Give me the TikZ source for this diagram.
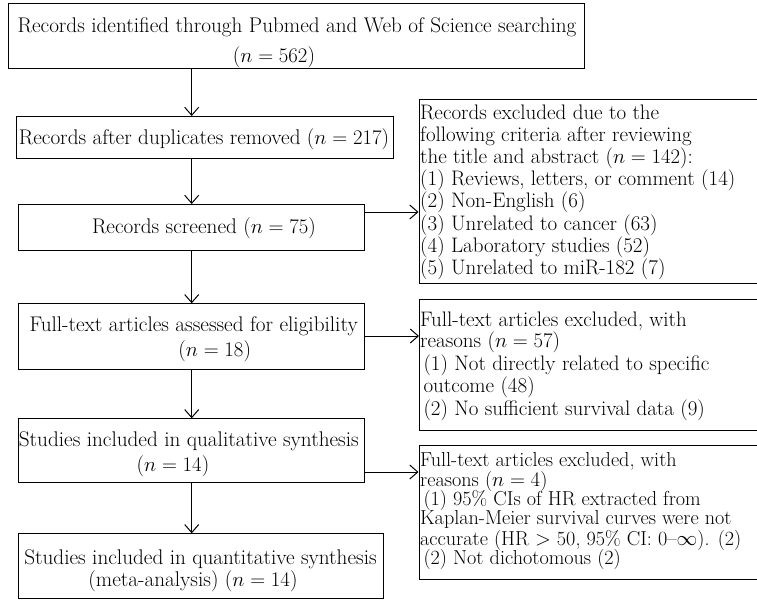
\documentclass[tikz,border=0pt]{standalone}
\usetikzlibrary{arrows.meta}
\begin{document}
\begin{tikzpicture}[x=1pt,y=-1pt,
  box/.style={draw=black,line width=1pt,rectangle,inner sep=0pt,anchor=north west},
  arr/.style={draw=black,line width=1pt,-{Straight Barb[length=8pt,width=14pt,line width=1pt]}},
  txt/.style={inner sep=0pt,anchor=base,font=\fontsize{21.2}{24}\selectfont},
  ltxt/.style={inner sep=0pt,anchor=base west,font=\fontsize{21}{24}\selectfont},
  stxt/.style={inner sep=0pt,anchor=base west,font=\fontsize{20.2}{23}\selectfont}]
\clip (0,0) rectangle (757,600);
\useasboundingbox (0,0) rectangle (757,600);
% main boxes
\node[box,minimum width=576pt,minimum height=65pt] (b1) at (8,3) {};
\node[box,minimum width=377.6pt,minimum height=42.3pt] (b2) at (15.7,116) {};
\node[box,minimum width=346pt,minimum height=46pt] (b3) at (18.3,204) {};
\node[box,minimum width=346pt,minimum height=65.7pt] (b4) at (18.3,303.3) {};
\node[box,minimum width=346pt,minimum height=63.4pt] (b5) at (18.3,418.3) {};
\node[box,minimum width=365pt,minimum height=65pt] (b6) at (18.3,533.3) {};
% exclusion boxes
\node[box,minimum width=380pt,minimum height=184pt] (e1) at (418.5,98.5) {};
\node[box,minimum width=380pt,minimum height=131pt] (e2) at (419,299) {};
\node[box,minimum width=380pt,minimum height=134pt] (e3) at (418.5,445) {};
% texts of main boxes
\node[txt] (b1t1) at (297,32) {Records identified through Pubmed and Web of Science searching};
\node[txt] (b1t2) at (274,62) {($n = 562$)};
\node[txt] (b2t1) at (204,144.3) {Records after duplicates removed ($n = 217$)};
\node[txt] (b3t1) at (204,233.5) {Records screened ($n = 75$)};
\node[txt] (b4t1) at (193.7,331.7) {Full-text articles assessed for eligibility};
\node[txt] (b4t2) at (214.7,356) {($n = 18$)};
\node[txt] (b5t1) at (188.8,446) {Studies included in qualitative synthesis};
\node[txt] (b5t2) at (173,471.7) {($n = 14$)};
\node[txt] (b6t1) at (200.5,564.3) {Studies included in quantitative synthesis};
\node[txt] (b6t2) at (193,586) {(meta-analysis) ($n = 14$)};
% texts of exclusion box 1
\node[ltxt] (e1t1) at (420,119.3) {Records excluded due to the};
\node[ltxt] (e1t2) at (420,141.4) {following criteria after reviewing};
\node[ltxt] (e1t3) at (420,163.6) {the title and abstract ($n = 142$):};
\node[ltxt] (e1t4) at (420,185.7) {(1) Reviews, letters, or comment (14)};
\node[ltxt] (e1t5) at (420,207.9) {(2) Non-English (6)};
\node[ltxt] (e1t6) at (420,230.0) {(3) Unrelated to cancer (63)};
\node[ltxt] (e1t7) at (420,252.1) {(4) Laboratory studies (52)};
\node[ltxt] (e1t8) at (420,274.3) {(5) Unrelated to miR-182 (7)};
% texts of exclusion box 2
\node[ltxt] (e2t1) at (420,326.7) {Full-text articles excluded, with};
\node[ltxt] (e2t2) at (420,347.5) {reasons ($n = 57$)};
\node[ltxt] (e2t3) at (423.3,370) {(1) Not directly related to specific};
\node[ltxt] (e2t4) at (423.3,392) {outcome (48)};
\node[ltxt] (e2t5) at (423.3,415) {(2) No sufficient survival data (9)};
% texts of exclusion box 3
\node[stxt] (e3t1) at (420,466.7) {Full-text articles excluded, with};
\node[stxt] (e3t2) at (420,486.0) {reasons ($n = 4$)};
\node[stxt] (e3t3) at (423.3,505.2) {(1) 95\% CIs of HR extracted from};
\node[stxt] (e3t4) at (420,524.2) {Kaplan-Meier survival curves were not};
\node[stxt] (e3t5) at (420,545.4) {accurate (HR $>$ 50, 95\% CI: 0--$\infty$). (2)};
\node[stxt] (e3t6) at (423.3,564.8) {(2) Not dichotomous (2)};
% connector guides
\coordinate (ax) at (191.7,0);
\coordinate (h1) at (0,212);
\coordinate (h2) at (0,336);
\coordinate (h3) at (0,472);
% vertical arrows
\draw[arr] (b1.south -| ax) -- (b2.north -| ax);
\draw[arr] (b2.south -| ax) -- (b3.north -| ax);
\draw[arr] (b3.south -| ax) -- (b4.north -| ax);
\draw[arr] (b4.south -| ax) -- (b5.north -| ax);
\draw[arr] (b5.south -| ax) -- (b6.north -| ax);
% horizontal arrows
\draw[arr] (b3.east |- h1) -- (e1.west |- h1);
\draw[arr] (b4.east |- h2) -- (e2.west |- h2);
\draw[arr] (b5.east |- h3) -- (e3.west |- h3);
\end{tikzpicture}
\end{document}
